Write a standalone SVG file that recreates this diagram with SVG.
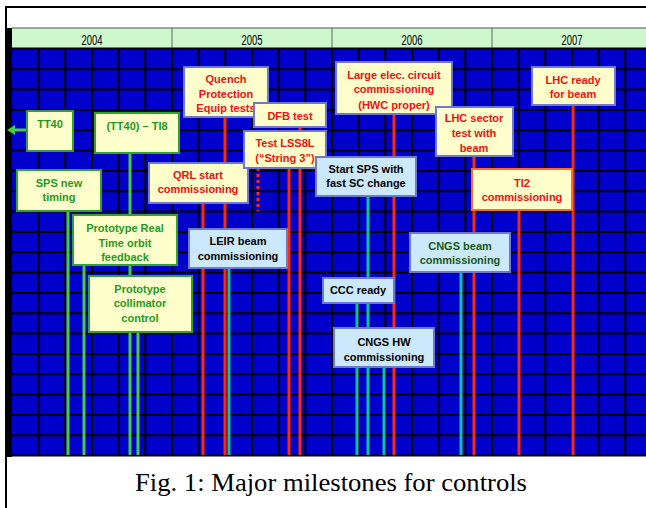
<svg xmlns="http://www.w3.org/2000/svg" width="646" height="508" viewBox="0 0 646 508">
<defs>
<style>
.bx{stroke-width:2}
.y{fill:#ffffcc}
.b{fill:#cce8fc}
.gb{stroke:#33a033}
.bb{stroke:#6f78d0}
.ob{stroke:#ff6a30}
.t{font-family:"Liberation Sans",Arial,sans-serif;font-weight:bold;font-size:11px;text-anchor:middle}
.tg{fill:#1f9a1f}
.tr{fill:#ee1111}
.tk{fill:#000}
.td{fill:#145a14}
.yr{font-family:"Liberation Sans",Arial,sans-serif;font-size:15px;text-anchor:middle;fill:#000}
.gl{stroke:#000;stroke-width:2}
.lg{stroke:#44cc44;stroke-width:3}
.lr{stroke:#ff2a00;stroke-width:3}
.lt{stroke:#11c0a0;stroke-width:3}
</style>
</defs>
<rect x="0" y="0" width="646" height="508" fill="#fff"/>
<!-- frame -->
<rect x="5" y="6" width="641" height="2" fill="#000"/>
<rect x="5" y="6" width="2" height="502" fill="#000"/>
<!-- chart background -->
<g id="chart">
<rect x="12" y="28" width="634" height="20" fill="#cdf7cd"/>
<rect x="12" y="48" width="634" height="408" fill="#0000cc"/>
<rect x="5" y="28" width="7" height="429" fill="#000"/>
<line x1="12" y1="28" x2="646" y2="28" stroke="#555" stroke-width="1"/>
<line x1="172" y1="28" x2="172" y2="48" stroke="#666" stroke-width="1"/>
<line x1="332" y1="28" x2="332" y2="48" stroke="#666" stroke-width="1"/>
<line x1="492" y1="28" x2="492" y2="48" stroke="#666" stroke-width="1"/>
<text class="yr" x="92" y="45" textLength="21" lengthAdjust="spacingAndGlyphs">2004</text>
<text class="yr" x="252" y="45" textLength="21" lengthAdjust="spacingAndGlyphs">2005</text>
<text class="yr" x="412" y="45" textLength="21" lengthAdjust="spacingAndGlyphs">2006</text>
<text class="yr" x="572" y="45" textLength="21" lengthAdjust="spacingAndGlyphs">2007</text>
<g class="gl">
<line x1="12" y1="48.5" x2="646" y2="48.5"/>
<line x1="12" y1="69.3" x2="646" y2="69.3"/>
<line x1="12" y1="89.6" x2="646" y2="89.6"/>
<line x1="12" y1="110" x2="646" y2="110"/>
<line x1="12" y1="130.3" x2="646" y2="130.3"/>
<line x1="12" y1="150.6" x2="646" y2="150.6"/>
<line x1="12" y1="171" x2="646" y2="171"/>
<line x1="12" y1="191.3" x2="646" y2="191.3"/>
<line x1="12" y1="211.6" x2="646" y2="211.6"/>
<line x1="12" y1="232" x2="646" y2="232"/>
<line x1="12" y1="252.3" x2="646" y2="252.3"/>
<line x1="12" y1="272.6" x2="646" y2="272.6"/>
<line x1="12" y1="293" x2="646" y2="293"/>
<line x1="12" y1="313.3" x2="646" y2="313.3"/>
<line x1="12" y1="333.6" x2="646" y2="333.6"/>
<line x1="12" y1="354" x2="646" y2="354"/>
<line x1="12" y1="374.3" x2="646" y2="374.3"/>
<line x1="12" y1="394.6" x2="646" y2="394.6"/>
<line x1="12" y1="415" x2="646" y2="415"/>
<line x1="12" y1="435.3" x2="646" y2="435.3"/>
<line x1="12" y1="455.6" x2="646" y2="455.6"/>
<line x1="38.7" y1="48" x2="38.7" y2="456"/>
<line x1="65.3" y1="48" x2="65.3" y2="456"/>
<line x1="92" y1="48" x2="92" y2="456"/>
<line x1="118.7" y1="48" x2="118.7" y2="456"/>
<line x1="145.3" y1="48" x2="145.3" y2="456"/>
<line x1="172" y1="48" x2="172" y2="456"/>
<line x1="198.7" y1="48" x2="198.7" y2="456"/>
<line x1="225.3" y1="48" x2="225.3" y2="456"/>
<line x1="252" y1="48" x2="252" y2="456"/>
<line x1="278.7" y1="48" x2="278.7" y2="456"/>
<line x1="305.3" y1="48" x2="305.3" y2="456"/>
<line x1="332" y1="48" x2="332" y2="456"/>
<line x1="358.7" y1="48" x2="358.7" y2="456"/>
<line x1="385.3" y1="48" x2="385.3" y2="456"/>
<line x1="412" y1="48" x2="412" y2="456"/>
<line x1="438.7" y1="48" x2="438.7" y2="456"/>
<line x1="465.3" y1="48" x2="465.3" y2="456"/>
<line x1="492" y1="48" x2="492" y2="456"/>
<line x1="518.7" y1="48" x2="518.7" y2="456"/>
<line x1="545.3" y1="48" x2="545.3" y2="456"/>
<line x1="572" y1="48" x2="572" y2="456"/>
<line x1="598.7" y1="48" x2="598.7" y2="456"/>
<line x1="625.3" y1="48" x2="625.3" y2="456"/>
</g>
</g>
<!-- connectors -->
<g id="connectors">
<line class="lg" x1="68" y1="211" x2="68" y2="455"/>
<line class="lg" x1="84" y1="265" x2="84" y2="455"/>
<line class="lg" x1="130" y1="153" x2="130" y2="455"/>
<line class="lg" x1="138" y1="332" x2="138" y2="455"/>
<line class="lr" x1="203" y1="203" x2="203" y2="455"/>
<line class="lr" x1="225" y1="117" x2="225" y2="455"/>
<line class="lt" x1="229" y1="268" x2="229" y2="455"/>
<line class="lr" x1="258" y1="168" x2="258" y2="211" stroke-dasharray="3 3"/>
<line class="lr" x1="289" y1="168" x2="289" y2="455"/>
<line class="lr" x1="300" y1="127" x2="300" y2="455"/>
<line class="lt" x1="357" y1="303" x2="357" y2="455"/>
<line class="lt" x1="368" y1="196" x2="368" y2="455"/>
<line class="lt" x1="384" y1="367" x2="384" y2="455"/>
<line class="lr" x1="394" y1="114" x2="394" y2="455"/>
<line class="lt" x1="461" y1="272" x2="461" y2="455"/>
<line class="lr" x1="474" y1="156" x2="474" y2="455"/>
<line class="lr" x1="519" y1="210" x2="519" y2="455"/>
<line class="lr" x1="573" y1="105" x2="573" y2="455"/>
<line class="lg" x1="27" y1="130" x2="14" y2="130"/>
<polygon points="7,130 15,125 15,135" fill="#44cc44"/>
</g>
<!-- nodes -->
<g id="n-tt40">
<rect class="bx y gb" x="27" y="111" width="46" height="40"/>
<text class="t tg" x="50" y="128">TT40</text>
</g>
<g id="n-ti8">
<rect class="bx y gb" x="95" y="113" width="84" height="40"/>
<text class="t tg" x="137" y="130">(TT40) – TI8</text>
</g>
<g id="n-sps-timing">
<rect class="bx y gb" x="17" y="170" width="84" height="41"/>
<text class="t tg" x="59" y="187">SPS new</text>
<text class="t tg" x="59" y="201">timing</text>
</g>
<g id="n-orbit">
<rect class="bx y gb" x="73" y="215" width="104" height="50"/>
<text class="t tg" x="125" y="232">Prototype Real</text>
<text class="t tg" x="125" y="247">Time orbit</text>
<text class="t tg" x="125" y="261">feedback</text>
</g>
<g id="n-collimator">
<rect class="bx y gb" x="89" y="276" width="103" height="56"/>
<text class="t tg" x="140" y="293">Prototype</text>
<text class="t tg" x="140" y="307">collimator</text>
<text class="t tg" x="140" y="322">control</text>
</g>
<g id="n-quench">
<rect class="bx y bb" x="184" y="67" width="84" height="50"/>
<text class="t tr" x="226" y="83">Quench</text>
<text class="t tr" x="226" y="98">Protection</text>
<text class="t tr" x="226" y="112">Equip tests</text>
</g>
<g id="n-dfb">
<rect class="bx y bb" x="254" y="103" width="72" height="24"/>
<text class="t tr" x="290" y="120">DFB test</text>
</g>
<g id="n-qrl">
<rect class="bx y bb" x="149" y="163" width="99" height="40"/>
<text class="t tr" x="198" y="179">QRL start</text>
<text class="t tr" x="198" y="193">commissioning</text>
</g>
<g id="n-lss8l">
<rect class="bx y bb" x="244" y="131" width="82" height="37"/>
<text class="t tr" x="285" y="147">Test LSS8L</text>
<text class="t tr" x="285" y="162">(“String 3”)</text>
</g>
<g id="n-leir">
<rect class="bx b bb" x="189" y="229" width="98" height="39"/>
<text class="t tk" x="238" y="245">LEIR beam</text>
<text class="t tk" x="238" y="260">commissioning</text>
</g>
<g id="n-large">
<rect class="bx y bb" x="336" y="62" width="116" height="52"/>
<text class="t tr" x="394" y="79">Large elec. circuit</text>
<text class="t tr" x="394" y="93">commissioning</text>
<text class="t tr" x="394" y="109">(HWC proper)</text>
</g>
<g id="n-sector">
<rect class="bx y bb" x="436" y="107" width="77" height="49"/>
<text class="t tr" x="474" y="122">LHC sector</text>
<text class="t tr" x="474" y="137">test with</text>
<text class="t tr" x="474" y="152">beam</text>
</g>
<g id="n-startsps">
<rect class="bx b bb" x="316" y="157" width="100" height="39"/>
<text class="t tk" x="366" y="173">Start SPS with</text>
<text class="t tk" x="366" y="187">fast SC change</text>
</g>
<g id="n-lhcready">
<rect class="bx y bb" x="532" y="67" width="83" height="38"/>
<text class="t tr" x="573" y="84">LHC ready</text>
<text class="t tr" x="573" y="98">for beam</text>
</g>
<g id="n-ti2">
<rect class="bx y ob" x="472" y="169" width="100" height="41"/>
<text class="t tr" x="522" y="187">TI2</text>
<text class="t tr" x="522" y="201">commissioning</text>
</g>
<g id="n-cngs-beam">
<rect class="bx b bb" x="410" y="233" width="100" height="39"/>
<text class="t td" x="460" y="250">CNGS beam</text>
<text class="t td" x="460" y="264">commissioning</text>
</g>
<g id="n-ccc">
<rect class="bx b bb" x="323" y="278" width="71" height="25"/>
<text class="t tk" x="358" y="294">CCC ready</text>
</g>
<g id="n-cngs-hw">
<rect class="bx b bb" x="334" y="328" width="100" height="39"/>
<text class="t tk" x="384" y="346">CNGS HW</text>
<text class="t tk" x="384" y="361">commissioning</text>
</g>
<text x="331" y="491" font-family="'Liberation Serif','Times New Roman',serif" font-size="25" text-anchor="middle" textLength="392" lengthAdjust="spacingAndGlyphs" fill="#000">Fig. 1: Major milestones for controls</text>
</svg>
